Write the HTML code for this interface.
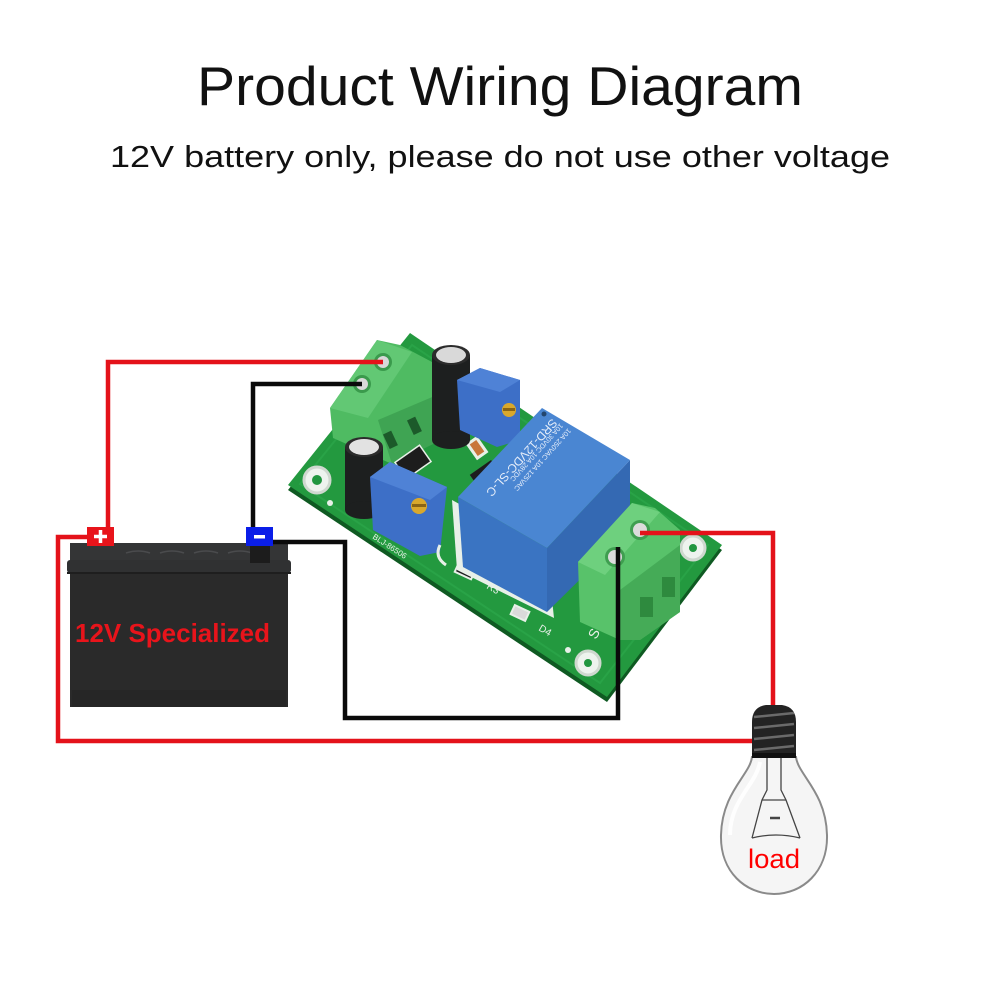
<!DOCTYPE html>
<html><head><meta charset="utf-8">
<style>html,body{margin:0;padding:0;background:#fff;}svg{display:block}</style>
</head><body>
<svg width="1000" height="1000" viewBox="0 0 1000 1000" xmlns="http://www.w3.org/2000/svg">
<rect width="1000" height="1000" fill="#fff"/>
<!-- Titles -->
<text x="197" y="105" font-family="Liberation Sans, sans-serif" font-size="55" fill="#111" textLength="606" lengthAdjust="spacingAndGlyphs">Product Wiring Diagram</text>
<text x="110" y="167" font-family="Liberation Sans, sans-serif" font-size="31" fill="#111" textLength="780" lengthAdjust="spacingAndGlyphs">12V battery only, please do not use other voltage</text>

<!-- Battery -->
<rect x="70" y="543" width="218" height="164" fill="#2a2a2a"/>
<rect x="70" y="543" width="218" height="18" fill="#343536"/>
<rect x="67" y="560" width="224" height="13" rx="3" fill="#303132"/>
<rect x="67" y="572" width="224" height="2" fill="#1e1e1e"/>
<g stroke="#4a4b4d" stroke-width="1.5" fill="none">
<path d="M126,553 q12,-4 24,0 M160,553 q12,-4 24,0 M194,553 q12,-4 24,0 M228,553 q12,-4 24,0"/>
</g>
<rect x="72" y="690" width="214" height="17" fill="#262626"/>
<rect x="250" y="545" width="20" height="18" fill="#1c1c1c"/>
<text x="75" y="642" font-family="Liberation Sans, sans-serif" font-size="26" font-weight="bold" fill="#e8141b" textLength="195" lengthAdjust="spacingAndGlyphs">12V Specialized</text>

<!-- PCB -->
<polygon points="288,485 607,697 722,545 410,333" fill="#0f5a22" transform="translate(0,5)"/>
<polygon points="288,485 607,697 722,545 410,333" fill="#23993f"/>
<polygon points="300,484 600,683 708,545 412,345" fill="none" stroke="#2fae50" stroke-width="2" opacity="0.5"/>
<!-- mounting holes -->
<g fill="#eef3ee" stroke="#cfd8cf" stroke-width="3">
<circle cx="317" cy="480" r="13"/>
<circle cx="693" cy="548" r="12"/>
<circle cx="588" cy="663" r="12"/>
</g>
<g fill="#21963f"><circle cx="317" cy="480" r="5"/><circle cx="693" cy="548" r="4"/><circle cx="588" cy="663" r="4"/></g>
<circle cx="330" cy="503" r="3" fill="#e8f0e8"/>
<circle cx="568" cy="650" r="3" fill="#e8f0e8"/>

<!-- left terminal block -->
<polygon points="330,408 377,340 400,345 432,362 440,400 437,442 392,464 333,438" fill="#4fbb62"/>
<polygon points="378,420 437,395 437,442 392,464" fill="#3fa453"/>
<polygon points="330,408 377,340 412,352 368,418" fill="#62c874"/>
<rect x="386" y="432" width="9" height="16" fill="#1c5a2a" transform="rotate(-25 390 440)"/>
<rect x="410" y="418" width="9" height="16" fill="#1c5a2a" transform="rotate(-25 414 426)"/>
<circle cx="383" cy="362" r="9" fill="#3a9a4c"/><circle cx="383" cy="362" r="6" fill="#d8d8d8"/>
<circle cx="362" cy="384" r="9" fill="#3a9a4c"/><circle cx="362" cy="384" r="6" fill="#d8d8d8"/>

<!-- chips -->
<rect x="398" y="452" width="30" height="20" fill="#1d1d1d" transform="rotate(-35 413 462)" stroke="#e8f0e8" stroke-width="1.5"/>
<rect x="472" y="466" width="26" height="16" fill="#1d1d1d" transform="rotate(-35 485 474)"/>
<rect x="470" y="438" width="14" height="20" fill="#e8f0e8" transform="rotate(-35 477 448)"/>
<rect x="473" y="441" width="8" height="14" fill="#c8773a" transform="rotate(-35 477 448)"/>

<!-- capacitors -->
<rect x="432" y="355" width="38" height="85" fill="#1d1f1f"/>
<ellipse cx="451" cy="440" rx="19" ry="9" fill="#1d1f1f"/>
<ellipse cx="451" cy="355" rx="19" ry="10" fill="#2c2c2c"/>
<ellipse cx="451" cy="355" rx="15" ry="8" fill="#d9d9d9"/>
<rect x="345" y="447" width="38" height="63" fill="#1d1f1f"/>
<ellipse cx="364" cy="510" rx="19" ry="9" fill="#1d1f1f"/>
<ellipse cx="364" cy="447" rx="19" ry="10" fill="#2c2c2c"/>
<ellipse cx="364" cy="447" rx="15" ry="8" fill="#e2e2e2"/>

<!-- potentiometers -->
<polygon points="370,477 390,462 447,487 440,552 420,556 373,530" fill="#3d6fc7"/>
<polygon points="370,477 390,462 447,487 430,500" fill="#4f82d6"/>
<circle cx="419" cy="506" r="8" fill="#d9a82c"/><rect x="412" y="504" width="14" height="3" fill="#8a6414"/>
<polygon points="457,380 480,368 520,380 520,440 497,447 460,430" fill="#3d6fc7"/>
<polygon points="457,380 480,368 520,380 500,392" fill="#4f82d6"/>
<circle cx="509" cy="410" r="7" fill="#d9a82c"/><rect x="503" y="408" width="12" height="3" fill="#8a6414"/>

<!-- small parts -->
<rect x="456" y="566" width="18" height="10" fill="#1d1d1d" stroke="#e8f0e8" stroke-width="2" transform="rotate(25 465 571)"/>
<rect x="512" y="608" width="16" height="10" fill="#dadada" stroke="#e8f0e8" stroke-width="2" transform="rotate(25 520 613)"/>
<path d="M440,545 q-6,12 6,20" stroke="#e8f0e8" stroke-width="3" fill="none"/>
<text x="486" y="588" font-family="Liberation Sans, sans-serif" font-size="10" fill="#e8f0e8" transform="rotate(30 486 588)">R3</text>
<text x="538" y="630" font-family="Liberation Sans, sans-serif" font-size="10" fill="#e8f0e8" transform="rotate(30 538 630)">D4</text>
<text x="596" y="640" font-family="Liberation Sans, sans-serif" font-size="14" fill="#e8f0e8" transform="rotate(-62 596 640)">SO</text>
<text x="372" y="538" font-family="Liberation Sans, sans-serif" font-size="8" fill="#e8f0e8" transform="rotate(33 372 538)">BLJ-86506</text>

<!-- relay -->
<polygon points="452,500 547,552 554,618 457,570" fill="#e8f0e8"/>
<polygon points="458,497 547,548 547,612 463,567" fill="#3a74c2"/>
<polygon points="547,548 630,460 630,530 547,612" fill="#3469b3"/>
<polygon points="458,497 542,408 630,460 547,548" fill="#4a86d2"/>
<circle cx="544" cy="414" r="2.5" fill="#23466f"/>
<text x="0" y="0" font-family="Liberation Sans, sans-serif" font-size="12" fill="#e6eefa" transform="translate(552,418) rotate(132)">SRD-12VDC-SL-C</text>
<text x="0" y="0" font-family="Liberation Sans, sans-serif" font-size="7" fill="#e6eefa" transform="translate(568,428) rotate(132)">10A 250VAC 10A 125VAC</text>
<text x="0" y="0" font-family="Liberation Sans, sans-serif" font-size="7" fill="#e6eefa" transform="translate(560,423) rotate(132)">10A 30VDC 10A 28VDC</text>

<!-- right terminal block -->
<polygon points="578,562 632,503 655,508 680,530 680,612 640,640 620,640 580,622" fill="#58c26a"/>
<polygon points="620,590 680,545 680,612 640,640 620,640" fill="#45ab57"/>
<polygon points="578,562 632,503 660,512 605,575" fill="#6ed07e"/>
<rect x="640" y="597" width="13" height="20" fill="#2e8a3e"/>
<rect x="662" y="577" width="13" height="20" fill="#2e8a3e"/>
<circle cx="640" cy="530" r="10" fill="#3f9e50"/><circle cx="640" cy="530" r="7" fill="#dcdcdc"/>
<circle cx="615" cy="557" r="10" fill="#3f9e50"/><circle cx="615" cy="557" r="7" fill="#dcdcdc"/>

<!-- wires -->
<g fill="none" stroke-width="4.5" stroke-linejoin="miter" stroke-linecap="butt">
<path d="M383,362 H108 V528" stroke="#e4121a"/>
<path d="M362,384 H253 V528" stroke="#0a0a0a"/>
<path d="M273,542 H345 V718 H618 V547" stroke="#0a0a0a"/>
<path d="M640,533 H773 V710" stroke="#e4121a"/>
<path d="M88,537 H58 V741 H758" stroke="#e4121a"/>
</g>

<!-- terminals -->
<rect x="87" y="527" width="27" height="19" fill="#e8141b"/>
<path d="M100.5,530 V543 M94,536.5 H107" stroke="#fff" stroke-width="3.5"/>
<rect x="246" y="527" width="27" height="19" fill="#0a1ee8"/>
<rect x="254" y="535" width="11" height="3.5" fill="#fff"/>

<!-- bulb -->
<path d="M752,757 C750,775 722,792 721,835 C720,872 746,894 774,894 C802,894 828,872 827,835 C826,792 798,775 796,757 Z" fill="#f5f5f5" stroke="#8a8a8a" stroke-width="2"/>
<path d="M760,762 C756,785 730,800 730,835" fill="none" stroke="#fff" stroke-width="4" opacity="0.9"/>
<g fill="none" stroke="#444" stroke-width="1.3">
<path d="M767,757 V790 L762,800 L752,838 M781,757 V790 L786,800 L800,838"/>
<path d="M762,800 H786"/>
<path d="M752,838 Q776,832 800,838"/>
<path d="M770,818 H780" stroke-width="2.5"/>
</g>
<path d="M752,757 L752,722 Q752,707 766,705 L782,705 Q796,707 796,722 L796,757 Z" fill="#232323"/>
<g stroke="#6a6a6a" stroke-width="2.5">
<path d="M754,717 L794,713 M754,728 L794,724 M754,739 L794,735 M754,750 L794,746"/>
</g>
<rect x="752" y="753" width="44" height="5" fill="#111"/>
<text x="748" y="868" font-family="Liberation Sans, sans-serif" font-size="27" fill="#f00" textLength="52" lengthAdjust="spacingAndGlyphs">load</text>
</svg>
</body></html>
